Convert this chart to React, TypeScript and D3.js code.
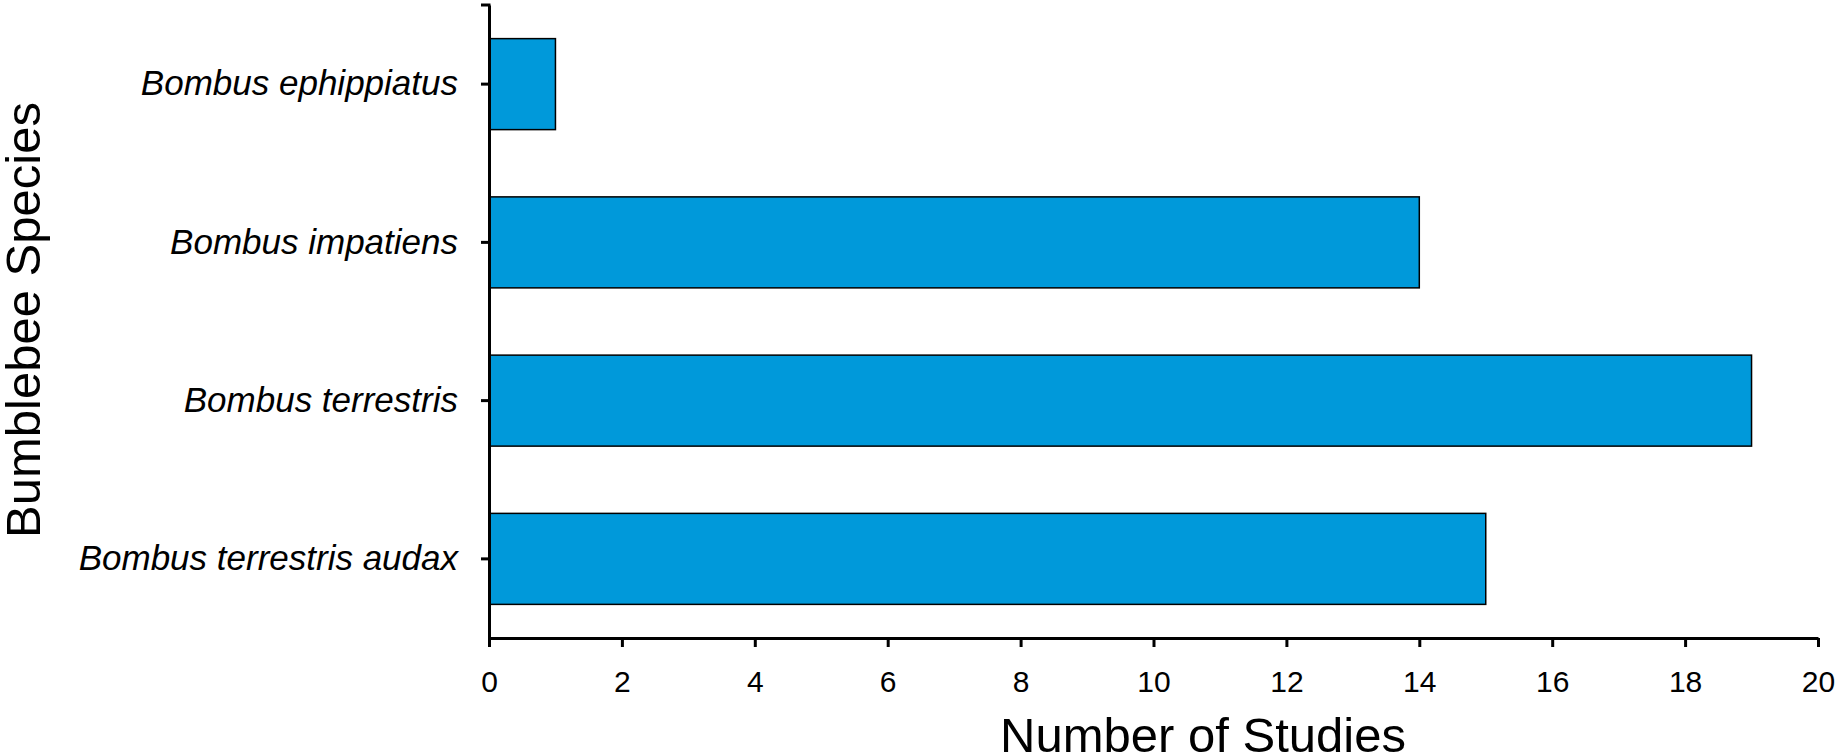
import React, { useEffect, useRef } from 'react';
import * as d3 from 'd3';

const width = 1840;
const height = 756;

// data, top to bottom
const species = [
  'Bombus ephippiatus',
  'Bombus impatiens',
  'Bombus terrestris',
  'Bombus terrestris audax',
];
const studies = [1, 14, 19, 15];
const xTicks = [0, 2, 4, 6, 8, 10, 12, 14, 16, 18, 20];

const font = '"Liberation Sans", Arial, sans-serif';
const barColor = '#0099da';

const xScale = d3.scaleLinear().domain([0, 20]).range([489, 1818]);
const yScale = d3
  .scaleBand<string>()
  .domain(species)
  .range([5, 638])
  .paddingInner(0.425)
  .paddingOuter(0.2125);

export default function App() {
  const xAxisRef = useRef<SVGGElement>(null);
  const yAxisRef = useRef<SVGGElement>(null);

  useEffect(() => {
    const xAxis = d3.axisBottom(xScale).tickValues(xTicks).tickSize(9).tickSizeOuter(0).tickPadding(24);
    const gx = d3.select(xAxisRef.current!).call(xAxis);
    gx.select('.domain').attr('stroke', '#000').attr('stroke-width', 3);
    gx.selectAll('.tick line').attr('stroke', '#000').attr('stroke-width', 3);
    gx.selectAll('.tick text')
      .attr('fill', '#000')
      .style('font-family', font)
      .style('font-size', '30px');

    const yAxis = d3.axisLeft(yScale).tickSize(8).tickSizeOuter(0).tickPadding(23);
    const gy = d3.select(yAxisRef.current!).call(yAxis);
    gy.select('.domain').attr('stroke', '#000').attr('stroke-width', 3);
    gy.selectAll('.tick line').attr('stroke', '#000').attr('stroke-width', 3);
    gy.selectAll('.tick text')
      .attr('fill', '#000')
      .style('font-family', font)
      .style('font-style', 'italic')
      .style('font-size', '35px');
  }, []);

  const y0 = yScale.range()[0];

  return (
    <svg
      width={width}
      height={height}
      style={{ position: 'absolute', left: 0, top: 0, background: '#fff' }}
    >
      {/* bars */}
      {species.map((s, i) => (
        <rect
          key={s}
          x={xScale(0)}
          y={yScale(s)}
          width={xScale(studies[i]) - xScale(0)}
          height={yScale.bandwidth()}
          fill={barColor}
          stroke="#000"
          strokeWidth={1.5}
        />
      ))}

      {/* axes */}
      <g ref={xAxisRef} transform={`translate(0, ${yScale.range()[1]})`} />
      <g ref={yAxisRef} transform={`translate(${xScale(0)}, 0)`} />
      {/* small cap at the top of the y axis */}
      <line x1={xScale(0) - 8} x2={xScale(0) + 1.5} y1={y0} y2={y0} stroke="#000" strokeWidth={3} />

      {/* axis titles */}
      <text
        x={1203}
        y={752}
        textAnchor="middle"
        style={{ fontFamily: font, fontSize: 49 }}
      >
        Number of Studies
      </text>
      <text
        transform="translate(40, 320) rotate(-90)"
        textAnchor="middle"
        style={{ fontFamily: font, fontSize: 49 }}
      >
        Bumblebee Species
      </text>
    </svg>
  );
}
